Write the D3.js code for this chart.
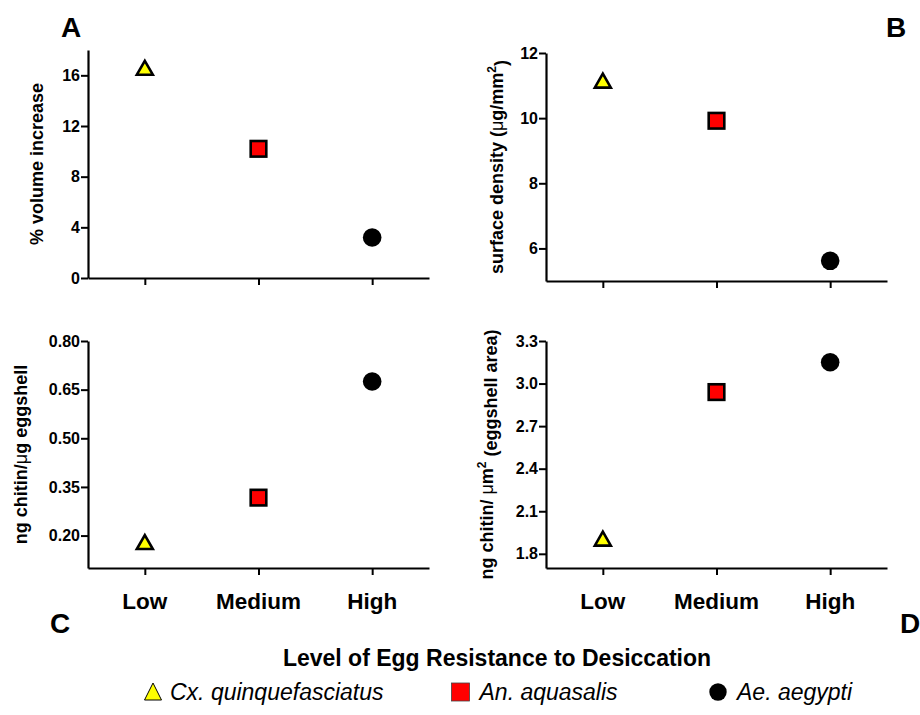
<!DOCTYPE html>
<html>
<head>
<meta charset="utf-8">
<script src="https://cdn.jsdelivr.net/npm/d3@7"></script>
<style>
  body { margin: 0; background: #fff; }
  text { font-family: Arial, "Liberation Sans", Helvetica, sans-serif; }
</style>
</head>
<body>
<div id="chart"></div>
<script>
var categories = ["Low", "Medium", "High"];
var species = ["Cx. quinquefasciatus", "An. aquasalis", "Ae. aegypti"];
var shapes = ["triangle", "square", "circle"];

var volumeIncrease = [16.6, 10.2, 3.2];
var surfaceDensity = [11.15, 9.92, 5.62];
var chitinPerMass = [0.18, 0.317, 0.675];
var chitinPerArea = [1.907, 2.94, 3.15];

var ticksA = [0, 4, 8, 12, 16];
var ticksB = [6, 8, 10, 12];
var ticksC = [0.20, 0.35, 0.50, 0.65, 0.80];
var ticksD = [1.8, 2.1, 2.4, 2.7, 3.0, 3.3];

var width = 920, height = 715;

var svg = d3.select("#chart").append("svg")
  .attr("width", width)
  .attr("height", height);

// marker paths, centred on the bounding box
function marker(g, shape) {
  if (shape == "triangle") {
    var s = 16, h = s * 0.87;
    g.append("path")
      .attr("d", "M0," + (-h / 2) + "L" + (s / 2) + "," + (h / 2) + "L" + (-s / 2) + "," + (h / 2) + "Z")
      .attr("fill", "#ffff00").attr("stroke", "#000").attr("stroke-width", 2.6)
      .attr("stroke-linejoin", "miter");
  } else if (shape == "square") {
    g.append("rect")
      .attr("x", -7.8).attr("y", -7.8).attr("width", 15.6).attr("height", 15.6)
      .attr("fill", "#ff0000").attr("stroke", "#000").attr("stroke-width", 2.6);
  } else {
    g.append("circle").attr("r", 9.3).attr("fill", "#000");
  }
}

var panels = [
  {values: volumeIncrease, ticks: ticksA, domain: [0, 18], fmt: d3.format("d"),
   left: 88, right: 429, top: 50, bottom: 278,
   label: "% volume increase", labelX: 37, letter: "A", lx: 61, ly: 37, showCats: false},
  {values: surfaceDensity, ticks: ticksB, domain: [5, 12], fmt: d3.format("d"),
   left: 546, right: 887, top: 53, bottom: 281,
   label: "surfB", labelX: 497, letter: "B", lx: 886, ly: 37, showCats: false},
  {values: chitinPerMass, ticks: ticksC, domain: [0.10, 0.80], fmt: d3.format(".2f"),
   left: 88, right: 429, top: 341, bottom: 568,
   label: "chitC", labelX: 21, letter: "C", lx: 50, ly: 633, showCats: true},
  {values: chitinPerArea, ticks: ticksD, domain: [1.7, 3.3], fmt: d3.format(".1f"),
   left: 546, right: 887, top: 341, bottom: 568,
   label: "chitD", labelX: 487, letter: "D", lx: 900, ly: 633, showCats: true}
];

panels.forEach(function(p) {
  var x = d3.scalePoint().domain(categories).range([p.left, p.right]).padding(0.5);
  var y = d3.scaleLinear().domain(p.domain).range([p.bottom, p.top]);

  var yAxis = svg.append("g")
    .attr("transform", "translate(" + p.left + ",0)")
    .call(d3.axisLeft(y).tickValues(p.ticks).tickFormat(p.fmt).tickSizeInner(7).tickSizeOuter(0).tickPadding(1));
  var xAxis = svg.append("g")
    .attr("transform", "translate(0," + p.bottom + ")")
    .call(d3.axisBottom(x).tickSizeInner(7).tickSizeOuter(0).tickFormat(""));

  [yAxis, xAxis].forEach(function(a) {
    a.select(".domain").attr("stroke", "#000").attr("stroke-width", 2.2);
    a.selectAll(".tick line").attr("stroke", "#000").attr("stroke-width", 2);
  });
  yAxis.selectAll(".tick text")
    .attr("font-size", 16).attr("font-weight", "bold").attr("fill", "#000")
    .attr("font-family", "Arial, 'Liberation Sans', sans-serif");

  if (p.showCats) {
    svg.append("g").selectAll("text")
      .data(categories).enter().append("text")
      .attr("x", function(d) { return x(d); })
      .attr("y", 609)
      .attr("text-anchor", "middle")
      .attr("font-size", 22.5).attr("font-weight", "bold")
      .text(function(d) { return d; });
  }

  // points
  p.values.forEach(function(v, i) {
    var g = svg.append("g").attr("transform", "translate(" + x(categories[i]) + "," + y(v) + ")");
    marker(g, shapes[i]);
  });

  // y label
  var cy = (p.top + p.bottom) / 2;
  var lab = svg.append("text")
    .attr("transform", "translate(" + p.labelX + "," + cy + ") rotate(-90)")
    .attr("text-anchor", "middle")
    .attr("dy", "0.35em")
    .attr("font-size", 18).attr("font-weight", "bold");
  if (p.label == "surfB") {
    lab.append("tspan").text("surface density (");
    lab.append("tspan").attr("font-weight", "normal").text("\u03bc");
    lab.append("tspan").text("g/mm");
    lab.append("tspan").attr("font-size", 12).attr("dy", "-0.6em").text("2");
    lab.append("tspan").attr("dy", "0.6em").text(")");
  } else if (p.label == "chitC") {
    lab.append("tspan").text("ng chitin/");
    lab.append("tspan").attr("font-weight", "normal").text("\u03bc");
    lab.append("tspan").text("g eggshell");
  } else if (p.label == "chitD") {
    lab.append("tspan").text("ng chitin/ ");
    lab.append("tspan").attr("font-weight", "normal").text("\u03bc");
    lab.append("tspan").text("m");
    lab.append("tspan").attr("font-size", 12).attr("dy", "-0.6em").text("2");
    lab.append("tspan").attr("dy", "0.6em").text(" (eggshell area)");
  } else {
    lab.text(p.label);
  }

  svg.append("text")
    .attr("x", p.lx).attr("y", p.ly)
    .attr("font-size", 28).attr("font-weight", "bold")
    .text(p.letter);
});

// common x title
svg.append("text")
  .attr("x", 497).attr("y", 666)
  .attr("text-anchor", "middle")
  .attr("font-size", 23).attr("font-weight", "bold")
  .text("Level of Egg Resistance to Desiccation");

// legend
var legendX = [153, 460.5, 718];
species.forEach(function(s, i) {
  var g = svg.append("g").attr("transform", "translate(" + legendX[i] + ",692)");
  if (shapes[i] == "triangle") {
    g.append("path").attr("d", "M0,-9L8.5,8L-8.5,8Z")
      .attr("fill", "#ffff00").attr("stroke", "#000").attr("stroke-width", 1);
  } else if (shapes[i] == "square") {
    g.append("rect").attr("x", -9).attr("y", -9).attr("width", 18).attr("height", 18)
      .attr("fill", "#ff0000").attr("stroke", "#444").attr("stroke-width", 0.8);
  } else {
    g.append("circle").attr("r", 8.7).attr("fill", "#000");
  }
  g.append("text")
    .attr("x", i == 0 ? 17 : 19).attr("y", 8)
    .attr("font-size", 23).attr("font-style", "italic")
    .text(s);
});
</script>
</body>
</html>
